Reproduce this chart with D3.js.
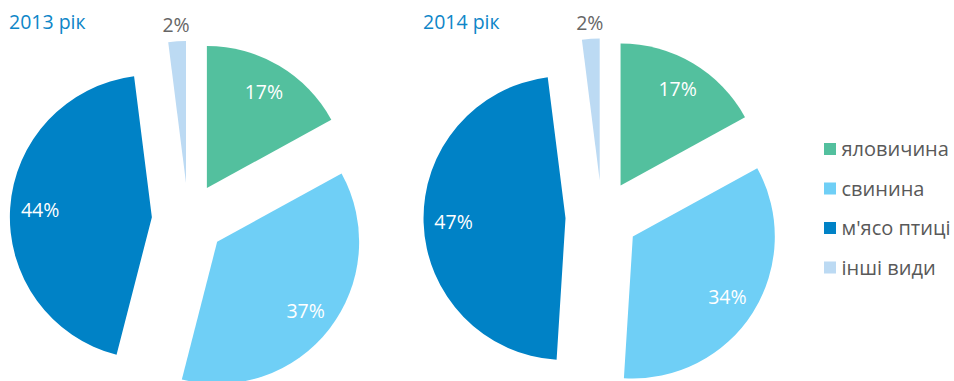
<!DOCTYPE html>
<html>
<head>
<meta charset="utf-8">
<script src="https://cdn.jsdelivr.net/npm/d3@7"></script>
<style>
  html, body { margin: 0; padding: 0; background: #fff; }
  svg { display: block; font-family: "Open Sans", sans-serif; }
</style>
</head>
<body>
<svg id="chart" width="954" height="381"></svg>
<script>
// Structure of meat production by type, share in percent
const categories = ["яловичина", "свинина", "м'ясо птиці", "інші види"];
const years = ["2013 рік", "2014 рік"];
const values2013 = [17, 37, 44, 2];
const values2014 = [17, 34, 47, 2];
const colors = ["#53c09e", "#6fcff6", "#0082c6", "#bcdaf3"];

const svg = d3.select("#chart");

const radius = 142;
const explode = 36.5;
const labelRadius = 112;
const outsideLabelRadius = 158;

const pie = d3.pie().sort(null).value(d => d);
const arc = d3.arc().innerRadius(0).outerRadius(radius);

const color = d3.scaleOrdinal().domain(categories).range(colors);

const panels = [
  { title: years[0], values: values2013, cx: 188.3, cy: 219.5, tx: 9 },
  { title: years[1], values: values2014, cx: 602, cy: 217, tx: 423 }
];

panels.forEach(p => {
  const g = svg.append("g").attr("transform", `translate(${p.cx},${p.cy})`);
  const arcs = pie(p.values);

  const slice = g.selectAll("g.slice")
    .data(arcs)
    .enter().append("g")
    .attr("class", "slice")
    .attr("transform", d => {
      const a = (d.startAngle + d.endAngle) / 2;
      return `translate(${Math.sin(a) * explode},${-Math.cos(a) * explode})`;
    });

  slice.append("path")
    .attr("d", arc)
    .attr("fill", (d, i) => color(categories[i]));

  slice.append("text")
    .attr("transform", d => {
      const a = (d.startAngle + d.endAngle) / 2;
      const small = d.value < 5;
      const r = small ? outsideLabelRadius : labelRadius;
      return `translate(${Math.sin(a) * r},${-Math.cos(a) * r})`;
    })
    .attr("text-anchor", "middle")
    .attr("dy", "0.36em")
    .attr("font-size", 19.5)
    .attr("fill", d => d.value < 5 ? "#666666" : "#ffffff")
    .text(d => d.value + "%");

  svg.append("text")
    .attr("x", p.tx)
    .attr("y", 29)
    .attr("font-size", 19.5)
    .attr("fill", "#0e86c8")
    .text(p.title);
});

// Legend
const legend = svg.append("g").attr("transform", "translate(824,149)");
const rowStep = 39.5;
const item = legend.selectAll("g.item")
  .data(categories)
  .enter().append("g")
  .attr("class", "item")
  .attr("transform", (d, i) => `translate(0,${i * rowStep})`);

item.append("rect")
  .attr("x", 0).attr("y", -6)
  .attr("width", 12).attr("height", 12)
  .attr("fill", d => color(d));

item.append("text")
  .attr("x", 17.5)
  .attr("dy", "0.36em")
  .attr("font-size", 20)
  .attr("fill", "#595959")
  .text(d => d);
</script>
</body>
</html>
